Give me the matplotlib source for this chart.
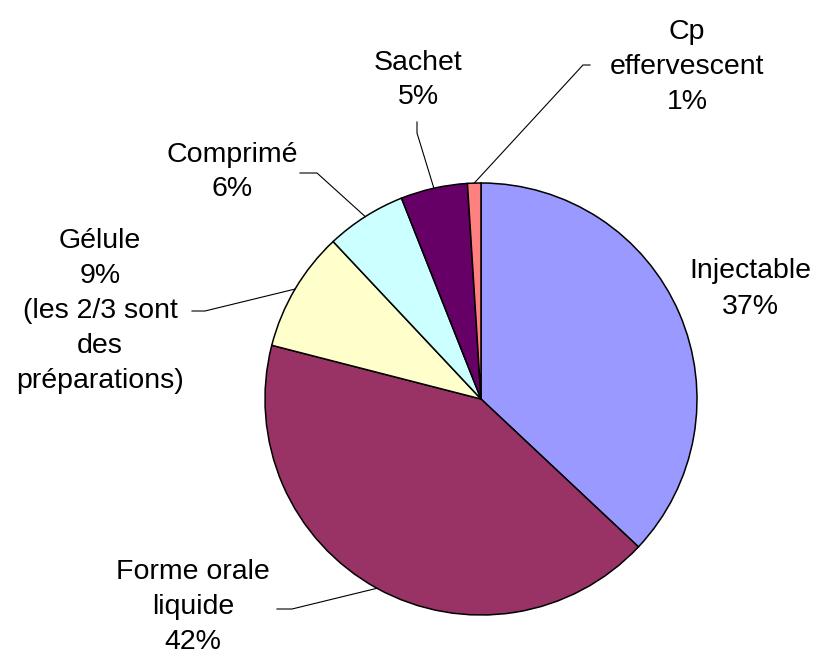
import numpy as np
import matplotlib.pyplot as plt

plt.rcParams['font.family'] = ['Liberation Sans', 'DejaVu Sans']

# Share of each dosage form (%)
labels = ['Injectable', 'Forme orale\nliquide', 'Gélule', 'Comprimé', 'Sachet', 'Cp\neffervescent']
values = [37, 42, 9, 6, 5, 1]
colors = ['#9999FF', '#993366', '#FFFFCC', '#CCFFFF', '#660066', '#FF8080']
extra = ['', '', '\n(les 2/3 sont\ndes\npréparations)', '', '', '']

W, H = 815, 659
fig = plt.figure(figsize=(W / 100, H / 100), dpi=100)
ax = fig.add_axes([0, 0, 1, 1])
ax.set_aspect('equal')

cx, cy, r = 481, H - 399, 216
ax.pie(values, colors=colors, startangle=90, counterclock=False,
       center=(cx, cy), radius=r, frame=True,
       wedgeprops=dict(edgecolor='black', linewidth=1.1))
ax.set_xlim(0, W)
ax.set_ylim(0, H)
ax.axis('off')

# label centre (pixels from top-left) and the elbow of its leader line
text_pos = [(750, 289), (193, 607), (100, 311), (232, 172), (418, 80), (687, 67)]
elbows = [None, ((292, 609), (277, 609)), ((205, 311), (192, 311)),
          ((317, 173), (300, 173)), ((417, 133), (417, 122)),
          ((583, 65), (590, 65))]

cum = np.cumsum([0] + values)
for i, lab in enumerate(labels):
    txt = f'{lab}\n{values[i]}%{extra[i]}'
    tx, ty = text_pos[i]
    ax.text(tx, H - ty, txt, ha='center', va='center', fontsize=20.5,
            linespacing=1.45, color='black')
    if elbows[i] is not None:
        mid = (cum[i] + cum[i + 1]) / 2 / 100 * 2 * np.pi
        px = cx + r * np.sin(mid)
        py = cy + r * np.cos(mid)
        (ex, ey), (hx, hy) = elbows[i]
        ax.plot([px, ex, hx], [py, H - ey, H - hy], color='black', lw=0.8)

fig.savefig('out.png', dpi=100)
